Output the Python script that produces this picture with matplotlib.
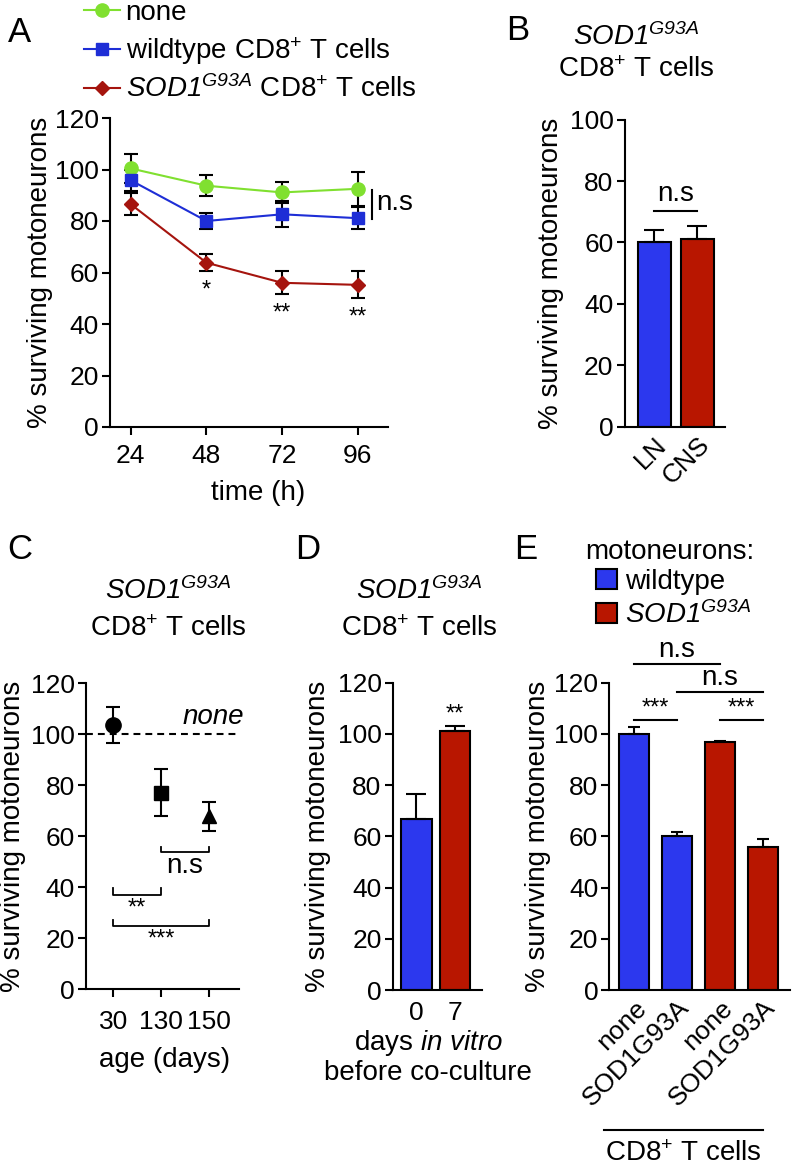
import matplotlib
matplotlib.use('Agg')
import matplotlib.pyplot as plt
from matplotlib.lines import Line2D

plt.rcParams['font.family'] = ['Liberation Sans', 'DejaVu Sans']
plt.rcParams['mathtext.fontset'] = 'custom'
plt.rcParams['mathtext.rm'] = 'Liberation Sans'
plt.rcParams['mathtext.it'] = 'Liberation Sans:italic'
plt.rcParams['mathtext.sf'] = 'Liberation Sans:italic'
plt.rcParams['mathtext.bf'] = 'Liberation Sans:bold'
plt.rcParams['axes.linewidth'] = 1.5

# ---------------- data ----------------
# Panel A
time_h = [24, 48, 72, 96]
none_mean = [100.4, 93.7, 91.1, 92.5]
none_err = [5.8, 4.0, 4.2, 6.7]
wt_mean = [95.8, 80.0, 82.6, 81.1]
wt_err = [4.0, 3.0, 5.0, 4.2]
sod_mean = [86.5, 63.8, 56.0, 55.2]
sod_err = [4.3, 3.3, 4.4, 5.2]
A_stars = ['', '*', '**', '**']

# Panel B
B_cats = ['LN', 'CNS']
B_vals = [60.0, 61.0]
B_err = [4.0, 4.4]

# Panel C
C_ages = ['30', '130', '150']
C_means = [103.6, 77.1, 67.8]
C_err = [7.1, 9.1, 5.6]

# Panel D
D_days = ['0', '7']
D_vals = [66.8, 101.3]
D_err = [9.8, 1.8]

# Panel E
E_groups = ['none', 'SOD1G93A', 'none', 'SOD1G93A']
E_vals = [100.0, 60.3, 96.8, 55.7]
E_err = [2.6, 1.3, 0.5, 3.2]

# ---------------- style ----------------
BLUE = '#2C38EE'
RED = '#B81600'
LGREEN = '#80E030'
LBLUE = '#1E2ED6'
DRED = '#A5140E'
FS_TICK = 19
FS_LAB = 20
FS_STAR = 17
SOD = r'$\mathsf{SOD1}^{\mathsf{G93A}}$'
CD8 = r'CD8$^{+}$ T cells'
YLAB = '% surviving motoneurons'

W, H = 793, 1167
fig = plt.figure(figsize=(W / 100, H / 100), dpi=100)


def ax_px(l, t, r, b):
    return fig.add_axes([l / W, 1 - b / H, (r - l) / W, (b - t) / H])


def fx(px):
    return px / W


def fy(py):
    return 1 - py / H


def style(ax, xticklen=6):
    for s in ['top', 'right']:
        ax.spines[s].set_visible(False)
    ax.tick_params(axis='y', length=6, width=1.5, labelsize=FS_TICK, pad=2)
    ax.tick_params(axis='x', length=xticklen, width=1.5, labelsize=FS_TICK, pad=4)


def ylabel_at(ax, l, r, pxc):
    ax.set_ylabel(YLAB, fontsize=FS_LAB)
    ax.yaxis.label.set_va('center')
    ax.yaxis.set_label_coords((pxc - l) / (r - l), 0.5)


# ---------------- Panel A ----------------
Al, At, Ar, Ab = 110, 118, 388, 427
axA = ax_px(Al, At, Ar, Ab)
lines = []
for mean, err, col, mk, ms in [(none_mean, none_err, LGREEN, 'o', 9.5),
                               (wt_mean, wt_err, LBLUE, 's', 8.5),
                               (sod_mean, sod_err, DRED, 'D', 7.5)]:
    axA.errorbar(time_h, mean, yerr=err, fmt='none', ecolor='black',
                 elinewidth=1.5, capsize=5, capthick=1.5, zorder=2)
    ln, = axA.plot(time_h, mean, color=col, marker=mk, ms=ms, lw=1.5,
                   mec=col, zorder=3)
    lines.append(ln)
for x, m, e, s in zip(time_h, sod_mean, sod_err, A_stars):
    if s:
        axA.annotate(s, (x, m - e), xytext=(0, -6), textcoords='offset points',
                     ha='center', va='top', fontsize=FS_STAR)
# n.s bracket between wildtype and none at last time point
axA.plot([time_h[-1] + 4.4] * 2, [wt_mean[-1] - 0.2, none_mean[-1] - 0.6],
         color='black', lw=1.5, clip_on=False)
axA.text(time_h[-1] + 6.0, (wt_mean[-1] + none_mean[-1]) / 2, 'n.s',
         fontsize=FS_LAB, va='center', ha='left')
axA.set_xlim(17.4, 105.6)
axA.set_ylim(0, 120)
axA.set_yticks(range(0, 121, 20))
axA.set_xticks(time_h)
style(axA)
axA.tick_params(axis='x', pad=6)
ylabel_at(axA, Al, Ar, 40)
axA.set_xlabel('time (h)', fontsize=FS_LAB)
axA.xaxis.label.set_va('center')
axA.xaxis.set_label_coords(0.5 + (258 - 249) / (Ar - Al), -(493 - Ab) / (Ab - At))
axA.legend(lines, ['none', 'wildtype ' + CD8, SOD + ' ' + CD8],
           loc='upper left', bbox_to_anchor=(fx(84), fy(0)),
           bbox_transform=fig.transFigure, frameon=False, fontsize=FS_LAB,
           borderpad=0, borderaxespad=0, handlelength=1.3, handletextpad=0.2,
           labelspacing=0.32)

# ---------------- Panel B ----------------
Bl, Bt, Br, Bb = 624.6, 119.6, 724.6, 426.8
axB = ax_px(Bl, Bt, Br, Bb)
xb = range(len(B_cats))
axB.bar(xb, B_vals, width=0.75, color=[BLUE, RED], edgecolor='black', lw=1.5,
        yerr=[[0] * len(B_vals), B_err], capsize=7,
        error_kw=dict(elinewidth=1.5, capthick=1.5), zorder=2)
axB.plot([0, 1], [70.3, 70.3], color='black', lw=1.5)
axB.text(0.5, 71.5, 'n.s', ha='center', va='bottom', fontsize=FS_LAB)
axB.set_xlim(-0.69, 1.63)
axB.set_ylim(0, 100)
axB.set_yticks(range(0, 101, 20))
axB.set_xticks(list(xb))
axB.set_xticklabels(B_cats, rotation=45, ha='right', va='top', rotation_mode='anchor')
style(axB, xticklen=0)
ylabel_at(axB, Bl, Br, 551)

# ---------------- Panel C ----------------
Cl, Ct, Cr, Cb = 86, 683.3, 239, 989.3
axC = ax_px(Cl, Ct, Cr, Cb)
xc = list(range(len(C_ages)))
for x, m, e, mk, ms in zip(xc, C_means, C_err, ['o', 's', '^'], [11, 10, 10.5]):
    axC.errorbar([x], [m], yerr=[e], fmt=mk, color='black', ms=ms,
                 elinewidth=1.5, capsize=5, capthick=1.5)
axC.axhline(100, color='black', lw=1.5, ls=(0, (3.3, 2.4)), zorder=1)
axC.text(1.03, 101.8, 'none', transform=axC.get_yaxis_transform(),
         ha='right', va='bottom', style='italic', fontsize=FS_LAB)


def bracket(ax, x0, x1, y, h, label, fs, gap):
    ax.plot([x0, x0, x1, x1], [y + h, y, y, y + h], color='black', lw=1.3,
            clip_on=False)
    ax.text((x0 + x1) / 2, y - gap, label, ha='center', va='top', fontsize=fs)


bracket(axC, 1, 2, 53.7, 2.3, 'n.s', FS_LAB, 0.3)
bracket(axC, 0, 1, 37.0, 2.6, '**', FS_STAR, 1.0)
bracket(axC, 0, 2, 24.8, 2.4, '***', FS_STAR, 1.0)
axC.set_xlim(-0.57, 2.63)
axC.set_ylim(0, 120)
axC.set_yticks(range(0, 121, 20))
axC.set_xticks(xc)
axC.set_xticklabels(C_ages)
style(axC)
axC.tick_params(axis='x', pad=9)
ylabel_at(axC, Cl, Cr, 13)
axC.set_xlabel('age (days)', fontsize=FS_LAB)
axC.xaxis.label.set_va('center')
axC.xaxis.set_label_coords((165 - Cl) / (Cr - Cl), -(1060 - Cb) / (Cb - Ct))

# ---------------- Panel D ----------------
Dl, Dt, Dr, Db = 392.7, 682.7, 481.7, 990
axD = ax_px(Dl, Dt, Dr, Db)
xd = list(range(len(D_days)))
axD.bar(xd, D_vals, width=0.79, color=[BLUE, RED], edgecolor='black', lw=1.5,
        yerr=[[0] * len(D_vals), D_err], capsize=7,
        error_kw=dict(elinewidth=1.5, capthick=1.5), zorder=2)
axD.annotate('**', (1, D_vals[1] + D_err[1]), xytext=(0, 0), textcoords='offset points',
             ha='center', va='bottom', fontsize=FS_STAR)
axD.set_xlim(-0.61, 1.69)
axD.set_ylim(0, 120)
axD.set_yticks(range(0, 121, 20))
axD.set_xticks(xd)
axD.set_xticklabels(D_days)
style(axD, xticklen=0)
axD.tick_params(axis='x', pad=8)
ylabel_at(axD, Dl, Dr, 318)
fig.text(fx(429), fy(1043), r'days $\mathit{in\ vitro}$', ha='center', va='center',
         fontsize=FS_LAB)
fig.text(fx(428), fy(1073), 'before co-culture', ha='center', va='center',
         fontsize=FS_LAB)

# ---------------- Panel E ----------------
El, Et, Er, Eb = 609.3, 682.7, 790, 990
axE = ax_px(El, Et, Er, Eb)
xe = list(range(len(E_groups)))
bars = axE.bar(xe, E_vals, width=0.69, color=[BLUE, BLUE, RED, RED],
               edgecolor='black', lw=1.5, yerr=[[0] * len(E_vals), E_err],
               capsize=4.5, error_kw=dict(elinewidth=1.5, capthick=1.5), zorder=2)


def hline(ax, x0, x1, y, label, fs, gap):
    ax.plot([x0, x1], [y, y], color='black', lw=1.5, clip_on=False)
    ax.text((x0 + x1) / 2, y + gap, label, ha='center', va='bottom', fontsize=fs,
            clip_on=False)


hline(axE, 0.0, 1.0, 105.5, '***', FS_STAR, 0.3)
hline(axE, 2.0, 3.0, 105.5, '***', FS_STAR, 0.3)
hline(axE, 1.0, 3.0, 116.3, 'n.s', FS_LAB, 0.3)
hline(axE, 0.0, 2.0, 127.3, 'n.s', FS_LAB, 0.3)
axE.set_xlim(-0.58, 3.63)
axE.set_ylim(0, 120)
axE.set_yticks(range(0, 121, 20))
axE.set_xticks(xe)
axE.set_xticklabels(E_groups, rotation=45, ha='right', va='top', rotation_mode='anchor')
style(axE, xticklen=0)
ylabel_at(axE, El, Er, 538)
axE.legend([bars[0], bars[2]], ['wildtype', SOD], loc='upper left',
           bbox_to_anchor=(fx(596), fy(569)), bbox_transform=fig.transFigure,
           frameon=False, fontsize=FS_LAB, borderpad=0, borderaxespad=0,
           handlelength=0.75, handleheight=0.72, handletextpad=0.3,
           labelspacing=0.22)
fig.text(fx(670), fy(552), 'motoneurons:', ha='center', va='center', fontsize=FS_LAB)
fig.add_artist(Line2D([fx(604), fx(763)], [fy(1130), fy(1130)], color='black', lw=1.5))
fig.text(fx(683), fy(1161), CD8, ha='center', va='baseline', fontsize=FS_LAB)

# ---------------- titles & letters ----------------
for cx in [636]:
    fig.text(fx(cx), fy(45), SOD, ha='center', va='baseline', fontsize=FS_LAB)
    fig.text(fx(cx), fy(77), CD8, ha='center', va='baseline', fontsize=FS_LAB)
for cx in [168, 419]:
    fig.text(fx(cx), fy(599), SOD, ha='center', va='baseline', fontsize=FS_LAB)
    fig.text(fx(cx), fy(636), CD8, ha='center', va='baseline', fontsize=FS_LAB)
for lab, x, y in [('A', 19, 33), ('B', 518, 30), ('C', 20, 550), ('D', 308, 550),
                  ('E', 526, 550)]:
    fig.text(fx(x), fy(y), lab, ha='center', va='center', fontsize=25)

fig.savefig('out.png', dpi=100)
